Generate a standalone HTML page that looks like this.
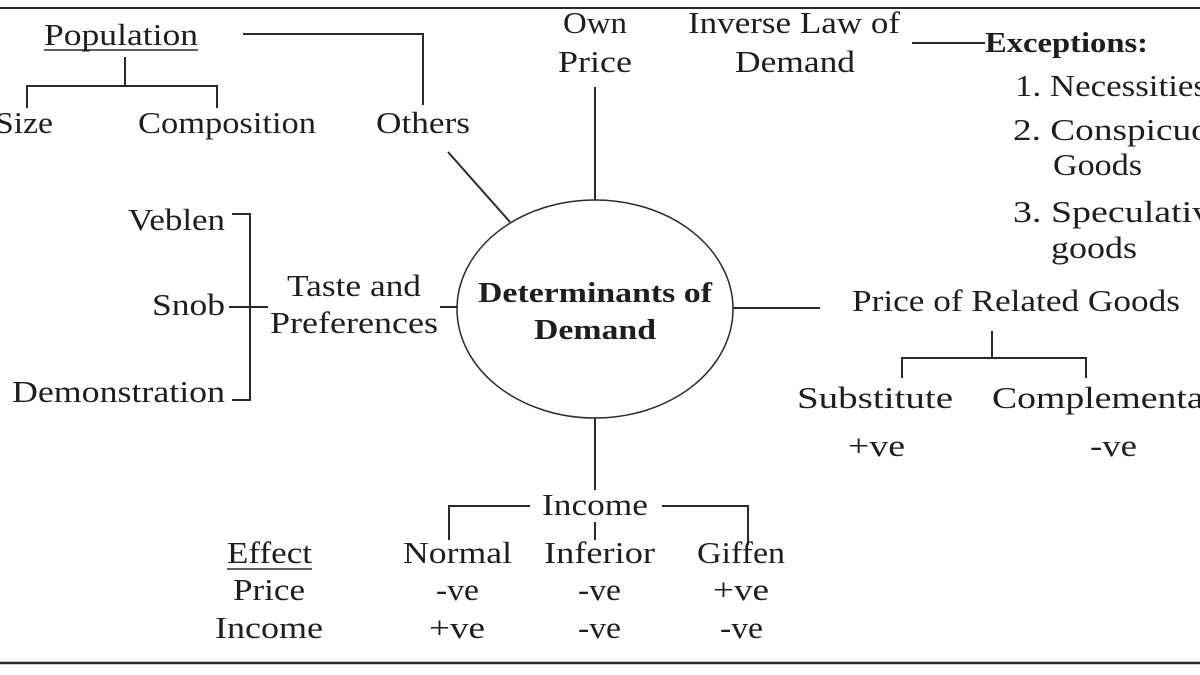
<!DOCTYPE html>
<html><head><meta charset="utf-8"><style>
html,body{margin:0;padding:0;background:#fff;width:1200px;height:675px;overflow:hidden}
svg{display:block}
text{font-family:"Liberation Serif",serif;fill:#1d1d22;font-size:31px}
.b{font-weight:bold}
.c{font-size:29px}
</style></head><body>
<svg width="1200" height="675" viewBox="0 0 1200 675">
<g stroke="#2a2a2a" stroke-width="2" fill="none">
<line x1="0" y1="8" x2="1200" y2="8"/>
<line x1="0" y1="663" x2="1200" y2="663" stroke-width="2.5"/>
<ellipse cx="595" cy="309" rx="138" ry="109" stroke-width="1.5"/>
<polyline points="125,57 125,86"/>
<polyline points="27,108 27,86 217,86 217,108"/>
<polyline points="243,34 423,34 423,105"/>
<line x1="448" y1="152" x2="510" y2="222"/>
<line x1="595" y1="87" x2="595" y2="200"/>
<line x1="912" y1="43" x2="985" y2="43"/>
<line x1="733" y1="308" x2="820" y2="308"/>
<line x1="992" y1="331" x2="992" y2="358"/>
<polyline points="902,378 902,358 1086,358 1086,378"/>
<line x1="440" y1="307" x2="458" y2="307"/>
<polyline points="232,214 250,214 250,400 232,400"/>
<line x1="229" y1="307" x2="268" y2="307"/>
<line x1="595" y1="418" x2="595" y2="490"/>
<polyline points="530,506 449,506 449,540"/>
<polyline points="662,506 748,506 748,545"/>
<line x1="595" y1="522" x2="595" y2="540"/>
<line x1="44" y1="50" x2="198" y2="50" stroke-width="1.5"/>
<line x1="227" y1="569" x2="312" y2="569" stroke-width="1.5"/>
</g>
<g>
<text x="44" y="45" textLength="154" lengthAdjust="spacingAndGlyphs">Population</text>
<text x="-5" y="133" textLength="58" lengthAdjust="spacingAndGlyphs">Size</text>
<text x="138" y="133" textLength="178" lengthAdjust="spacingAndGlyphs">Composition</text>
<text x="376" y="133" textLength="94" lengthAdjust="spacingAndGlyphs">Others</text>
<text x="563" y="33" textLength="64" lengthAdjust="spacingAndGlyphs">Own</text>
<text x="558" y="72" textLength="74" lengthAdjust="spacingAndGlyphs">Price</text>
<text x="688" y="33" textLength="212" lengthAdjust="spacingAndGlyphs">Inverse Law of</text>
<text x="735" y="72" textLength="120" lengthAdjust="spacingAndGlyphs">Demand</text>
<text x="985" y="52" class="b c" textLength="163" lengthAdjust="spacingAndGlyphs">Exceptions:</text>
<text x="1015" y="96" textLength="192" lengthAdjust="spacingAndGlyphs">1. Necessities</text>
<text x="1013" y="140" textLength="230" lengthAdjust="spacingAndGlyphs">2. Conspicuous</text>
<text x="1053" y="175" textLength="89" lengthAdjust="spacingAndGlyphs">Goods</text>
<text x="1013" y="222" textLength="215" lengthAdjust="spacingAndGlyphs">3. Speculative</text>
<text x="1051" y="258" textLength="86" lengthAdjust="spacingAndGlyphs">goods</text>
<text x="852" y="311" textLength="328" lengthAdjust="spacingAndGlyphs">Price of Related Goods</text>
<text x="797" y="408" textLength="156" lengthAdjust="spacingAndGlyphs">Substitute</text>
<text x="992" y="408" textLength="243" lengthAdjust="spacingAndGlyphs">Complementary</text>
<text x="848" y="456" textLength="57" lengthAdjust="spacingAndGlyphs">+ve</text>
<text x="1090" y="456" textLength="47" lengthAdjust="spacingAndGlyphs">-ve</text>
<text x="287" y="296" textLength="134" lengthAdjust="spacingAndGlyphs">Taste and</text>
<text x="270" y="333" textLength="168" lengthAdjust="spacingAndGlyphs">Preferences</text>
<text x="128" y="230" textLength="97" lengthAdjust="spacingAndGlyphs">Veblen</text>
<text x="152" y="315" textLength="73" lengthAdjust="spacingAndGlyphs">Snob</text>
<text x="12" y="402" textLength="213" lengthAdjust="spacingAndGlyphs">Demonstration</text>
<text x="478" y="302" class="b c" textLength="234" lengthAdjust="spacingAndGlyphs">Determinants of</text>
<text x="534" y="339" class="b c" textLength="122" lengthAdjust="spacingAndGlyphs">Demand</text>
<text x="542" y="515" textLength="106" lengthAdjust="spacingAndGlyphs">Income</text>
<text x="227" y="563" textLength="85" lengthAdjust="spacingAndGlyphs">Effect</text>
<text x="403" y="563" textLength="109" lengthAdjust="spacingAndGlyphs">Normal</text>
<text x="544" y="563" textLength="111" lengthAdjust="spacingAndGlyphs">Inferior</text>
<text x="697" y="563" textLength="88" lengthAdjust="spacingAndGlyphs">Giffen</text>
<text x="233" y="600" textLength="72" lengthAdjust="spacingAndGlyphs">Price</text>
<text x="215" y="638" textLength="108" lengthAdjust="spacingAndGlyphs">Income</text>
<text x="436" y="600" textLength="43" lengthAdjust="spacingAndGlyphs">-ve</text>
<text x="578" y="600" textLength="43" lengthAdjust="spacingAndGlyphs">-ve</text>
<text x="713" y="600" textLength="56" lengthAdjust="spacingAndGlyphs">+ve</text>
<text x="429" y="638" textLength="56" lengthAdjust="spacingAndGlyphs">+ve</text>
<text x="578" y="638" textLength="43" lengthAdjust="spacingAndGlyphs">-ve</text>
<text x="720" y="638" textLength="43" lengthAdjust="spacingAndGlyphs">-ve</text>
</g>
</svg>
</body></html>
